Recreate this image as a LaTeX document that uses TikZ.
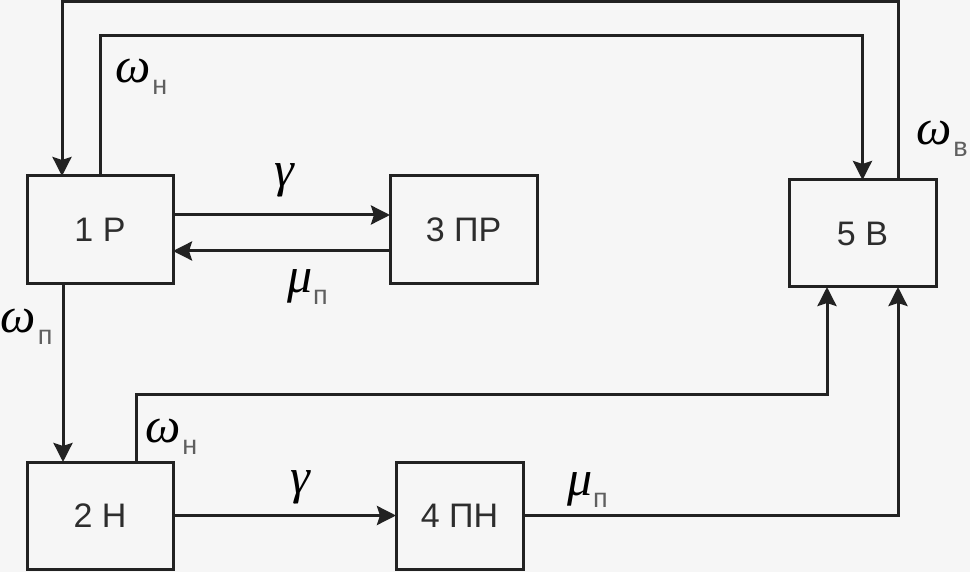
\documentclass[tikz,border=0pt]{standalone}
\usepackage{fontspec}
\setmainfont{Liberation Sans}
\newfontfamily\greekfont{Liberation Serif}
\usetikzlibrary{arrows.meta}
\definecolor{bgc}{RGB}{246,246,246}
\definecolor{linec}{RGB}{34,34,34}
\definecolor{txtc}{RGB}{45,45,45}
\definecolor{subc}{RGB}{95,95,95}
\newcommand{\glab}[3]{{\fontsize{50}{54}\greekfont\itshape #1}\hspace{#3}\raisebox{-12pt}{\fontsize{27}{30}\selectfont\color{subc}#2}}
\tikzset{
  blk/.style={draw=linec, line width=3pt, fill=bgc, text=txtc, inner sep=0pt, outer sep=0pt,
    font=\fontsize{34}{38}\selectfont},
  conn/.style={draw=linec, line width=3pt},
  arr/.style={conn, -{Stealth[length=19pt,width=19pt,inset=3pt]}},
  lab/.style={inner sep=0pt, outer sep=0pt, anchor=base west, text=black},
  glyph/.style={inner sep=0pt, outer sep=0pt, anchor=base, text=black, font=\fontsize{50}{54}\greekfont\itshape}
}
\begin{document}
\begin{tikzpicture}[x=1pt,y=-1pt]
  \fill[bgc] (0,0) rectangle (970,572);
  \useasboundingbox (0,0) rectangle (970,572);

  \node[blk, minimum width=146pt, minimum height=108pt] (b1) at (100,230) {1 Р};
  \node[blk, minimum width=147pt, minimum height=108pt] (b3) at (463.5,230) {3 ПР};
  \node[blk, minimum width=147pt, minimum height=107pt] (b5) at (862.5,233.5) {5 В};
  \node[blk, minimum width=146pt, minimum height=107pt] (b2) at (100,515.5) {2 Н};
  \node[blk, minimum width=127pt, minimum height=107pt] (b4) at (459.5,515.5) {4 ПН};

  \coordinate (t1) at (898,1.5);
  \coordinate (t2) at (62,1.5);
  \coordinate (t3) at (500,36);
  \coordinate (t4) at (500,394);

  % outer loop 5 -> 1
  \draw[arr] ([xshift=35.5pt]b5.north) -- (t1) -- (t2) -- (t2 |- b1.north);
  % inner loop 1 -> 5
  \draw[arr] (b1.north) |- (t3) -| (b5.north);
  % 1 <-> 3
  \draw[arr] ([yshift=15pt]b1.east) -- ([yshift=15pt]b3.west);
  \draw[arr] ([yshift=-21pt]b3.west) -- ([yshift=-21pt]b1.east);
  % 1 -> 2
  \draw[arr] ([xshift=-37pt]b1.south) -- ([xshift=-37pt]b2.north);
  % 2 -> 5
  \draw[arr] ([xshift=36pt]b2.north) |- (t4) -| ([xshift=-35.5pt]b5.south);
  % 2 -> 4
  \draw[arr] (b2.east) -- (b4.west);
  % 4 -> 5
  \draw[arr] (b4.east) -| ([xshift=35.5pt]b5.south);

  % labels
  \node[lab] (l1) at (115,83) {\glab{ω}{н}{2pt}};
  \node[lab] (l2) at (916,145) {\glab{ω}{в}{2pt}};
  \node[lab] (l3) at (0.5,333) {\glab{ω}{п}{2pt}};
  \node[lab] (l4) at (145,442) {\glab{ω}{н}{2pt}};
  \node[glyph] (g1) at (284,187) {γ};
  \node[glyph] (g2) at (300,493) {γ};
  \node[lab] (m1) at (287,293) {\glab{μ}{п}{1pt}};
  \node[lab] (m2) at (567,495) {\glab{μ}{п}{1pt}};
\end{tikzpicture}
\end{document}
